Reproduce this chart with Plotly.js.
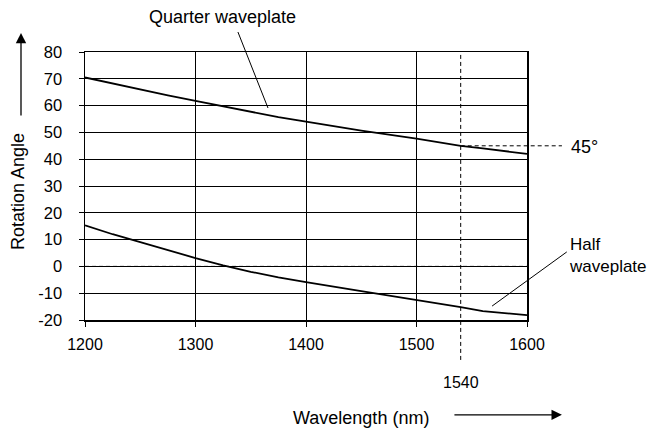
<!DOCTYPE html>
<html>
<head>
<meta charset="utf-8">
<script src="https://cdn.plot.ly/plotly-3.0.1.min.js"></script>
<style>html,body{margin:0;padding:0;background:#fff;}</style>
</head>
<body>
<div id="chart" style="width:650px;height:430px;"></div>
<script>
// Data
var wavelength = [1200, 1225, 1250, 1275, 1300, 1325, 1350, 1375, 1400, 1450, 1500, 1540, 1560, 1600];
var quarterWave = [70.5, 68.2, 66, 63.8, 61.8, 59.7, 57.6, 55.7, 54, 50.7, 47.7, 45, 44, 42];
var halfWave = [15.3, 12, 9.1, 6, 3.1, 0.4, -2, -4.1, -5.9, -9.2, -12.4, -15.2, -16.7, -18.2];
var xTicks = [1200, 1300, 1400, 1500, 1600];
var yTicks = [-20, -10, 0, 10, 20, 30, 40, 50, 60, 70, 80];
var markWavelength = 1540;
var markAngle = 45;

var xRange = [1200, 1600];
var yRange = [-20, 80];
function px(v){ return (v - xRange[0]) / (xRange[1] - xRange[0]); }
function py(v){ return (v - yRange[0]) / (yRange[1] - yRange[0]); }

var font = "Arial, 'Liberation Sans', sans-serif";

var traces = [
  {x: wavelength, y: quarterWave, mode: 'lines', line: {color: '#000', width: 1.8}, hoverinfo: 'skip'},
  {x: wavelength, y: halfWave, mode: 'lines', line: {color: '#000', width: 1.8}, hoverinfo: 'skip'}
];

var layout = {
  width: 650, height: 430,
  margin: {l: 85, r: 123, t: 52, b: 110},
  paper_bgcolor: '#fff', plot_bgcolor: '#fff',
  showlegend: false,
  font: {family: font, size: 16, color: '#000'},
  xaxis: {
    range: xRange, tickvals: xTicks, ticktext: xTicks.map(String),
    showgrid: true, gridcolor: '#000', gridwidth: 1,
    showline: true, linecolor: '#000', linewidth: 1.5, mirror: true,
    ticks: 'outside', ticklen: 5, tickcolor: '#000', ticklabelstandoff: 4,
    zeroline: false, tickfont: {size: 16}, fixedrange: true
  },
  yaxis: {
    range: yRange, tickvals: yTicks, ticktext: yTicks.map(String),
    showgrid: true, gridcolor: '#000', gridwidth: 1,
    showline: true, linecolor: '#000', linewidth: 1.5, mirror: true,
    ticks: 'outside', ticklen: 5, tickcolor: '#000', ticklabelstandoff: 13,
    zeroline: false, tickfont: {size: 16.5}, fixedrange: true
  },
  shapes: [
    // cover the solid 0 gridline and draw dashed instead
    {type: 'line', xref: 'paper', yref: 'paper', x0: 0.003, x1: 0.997, y0: py(0), y1: py(0),
     line: {color: '#fff', width: 2}, layer: 'between'},
    {type: 'line', xref: 'paper', yref: 'paper', x0: 0, x1: 1, y0: py(0), y1: py(0),
     line: {color: '#000', width: 1, dash: '4px,3px'}, layer: 'between'},
    // 1540 vertical dashed marker
    {type: 'line', xref: 'paper', yref: 'paper', x0: px(markWavelength), x1: px(markWavelength), y0: -0.149, y1: 1,
     line: {color: '#000', width: 1, dash: '4px,3px'}, layer: 'between'},
    // 45 deg horizontal dashed marker
    {type: 'line', xref: 'paper', yref: 'paper', x0: px(markWavelength), x1: 1.079, y0: py(markAngle), y1: py(markAngle),
     line: {color: '#000', width: 1, dash: '4px,3px'}},
    // pointer lines
    {type: 'line', xref: 'paper', yref: 'paper', x0: 0.346, y0: 1.0746, x1: 0.414, y1: 0.791,
     line: {color: '#000', width: 1}},
    {type: 'line', xref: 'paper', yref: 'paper', x0: 1.09, y0: 0.254, x1: 0.921, y1: 0.052,
     line: {color: '#000', width: 1}}
  ],
  annotations: [
    {text: 'Quarter waveplate', xref: 'paper', yref: 'paper', x: 0.31, y: 1.131, showarrow: false,
     xanchor: 'center', yanchor: 'middle', font: {size: 18}},
    {text: '45°', xref: 'paper', yref: 'paper', x: 1.131, y: 0.6455, showarrow: false,
     xanchor: 'center', yanchor: 'middle', font: {size: 18}},
    {text: 'Half<br>waveplate', xref: 'paper', yref: 'paper', x: 1.091, y: 0.239, showarrow: false,
     xanchor: 'left', yanchor: 'middle', align: 'left', font: {size: 17}},
    {text: String(markWavelength), xref: 'paper', yref: 'paper', x: px(markWavelength), y: -0.235, showarrow: false,
     xanchor: 'center', yanchor: 'middle', font: {size: 16}},
    {text: 'Wavelength (nm)', xref: 'paper', yref: 'paper', x: 0.624, y: -0.366, showarrow: false,
     xanchor: 'center', yanchor: 'middle', font: {size: 18}},
    {text: 'Rotation Angle', xref: 'paper', yref: 'paper', x: -0.1516, y: 0.481, showarrow: false,
     textangle: -90, xanchor: 'center', yanchor: 'middle', font: {size: 18}},
    // arrows
    {text: '', xref: 'paper', yref: 'paper', x: 1.079, y: -0.354, ax: -109, ay: 0,
     showarrow: true, arrowhead: 2, arrowsize: 1.6, arrowwidth: 1.3, arrowcolor: '#000'},
    {text: '', xref: 'paper', yref: 'paper', x: -0.1448, y: 1.071, ax: 0, ay: 84,
     showarrow: true, arrowhead: 2, arrowsize: 1.6, arrowwidth: 1.3, arrowcolor: '#000'}
  ]
};

Plotly.newPlot('chart', traces, layout, {staticPlot: true, displayModeBar: false});
</script>
</body>
</html>
